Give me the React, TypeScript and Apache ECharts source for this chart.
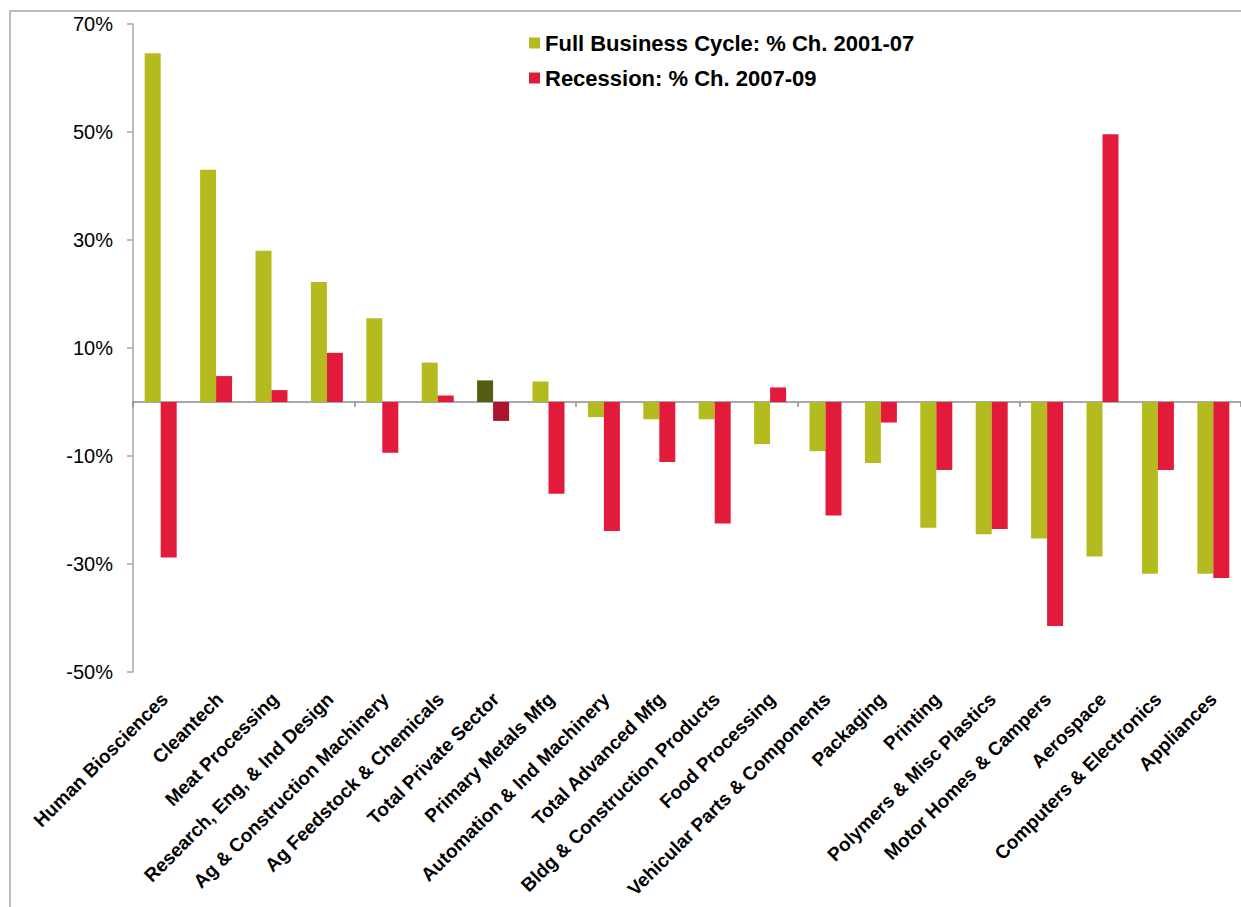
import React, { useEffect, useRef } from "react";
import * as echarts from "echarts";

const categories = [
  "Human Biosciences",
  "Cleantech",
  "Meat Processing",
  "Research, Eng, & Ind Design",
  "Ag & Construction Machinery",
  "Ag Feedstock & Chemicals",
  "Total Private Sector",
  "Primary Metals Mfg",
  "Automation & Ind Machinery",
  "Total Advanced Mfg",
  "Bldg & Construction Products",
  "Food Processing",
  "Vehicular Parts & Components",
  "Packaging",
  "Printing",
  "Polymers & Misc Plastics",
  "Motor Homes & Campers",
  "Aerospace",
  "Computers & Electronics",
  "Appliances",
];

const fullCycle = [
  64.6, 43.0, 28.0, 22.2, 15.5, 7.3, 4.0, 3.8, -2.8, -3.2, -3.2, -7.8, -9.1,
  -11.3, -23.3, -24.5, -25.3, -28.6, -31.8, -31.8,
];

const recession = [
  -28.8, 4.8, 2.2, 9.1, -9.4, 1.2, -3.5, -17.0, -23.9, -11.1, -22.5, 2.7,
  -21.0, -3.8, -12.6, -23.5, -41.5, 49.6, -12.6, -32.6,
];

const seriesNames = [
  "Full Business Cycle: % Ch. 2001-07",
  "Recession: % Ch. 2007-09",
];

const yTicks = { min: -50, max: 70, interval: 20 };

const highlightCategory = "Total Private Sector";

const GREEN = "#b3bb1f";
const RED = "#e31b3a";
const DARK_GREEN = "#575b12";
const DARK_RED = "#ad132b";

export default function App() {
  const ref = useRef<HTMLDivElement>(null);

  useEffect(() => {
    document.body.style.margin = "0";
    if (!ref.current) return;
    const chart = echarts.init(ref.current, null, { renderer: "svg" });

    const mk = (vals: number[], base: string, dark: string) =>
      vals.map((v, i) => ({
        value: v,
        itemStyle: {
          color: categories[i] === highlightCategory ? dark : base,
        },
      }));

    const font = "'Liberation Sans', Arial, sans-serif";

    chart.setOption({
      animation: false,
      backgroundColor: "#ffffff",
      graphic: [
        {
          type: "rect",
          shape: { x: 10, y: 11, width: 1400, height: 1000 },
          style: { fill: "none", stroke: "#a6a6a6", lineWidth: 1.5 },
          silent: true,
          z: -10,
        },
      ],
      legend: {
        orient: "vertical",
        left: 524,
        top: 27,
        itemWidth: 11,
        itemHeight: 11,
        itemGap: 13,
        icon: "rect",
        data: seriesNames,
        textStyle: {
          fontFamily: font,
          fontWeight: "bold",
          fontSize: 22,
          color: "#000",
        },
      },
      grid: [
        { left: 133, top: 24, width: 1120, height: 648 },
        { left: 137, top: 24, width: 1120, height: 648 },
      ],
      xAxis: [
        {
          type: "category",
          gridIndex: 0,
          data: categories,
          position: "top",
          axisLine: {
            show: true,
            onZero: true,
            lineStyle: { color: "#8c8c8c", width: 1.5 },
          },
          axisTick: {
            show: true,
            inside: true,
            length: 5,
            lineStyle: { color: "#8c8c8c", width: 1.5 },
          },
          axisLabel: { show: false },
        },
        {
          type: "category",
          gridIndex: 1,
          data: categories,
          position: "bottom",
          axisLine: { show: false, onZero: false },
          axisTick: { show: false },
          axisLabel: {
            interval: 0,
            rotate: 45,
            margin: 24,
            fontFamily: font,
            fontWeight: "bold",
            fontSize: 19,
            color: "#000",
          },
        },
      ],
      yAxis: [
        {
          type: "value",
          gridIndex: 0,
          ...yTicks,
          splitLine: { show: false },
          axisLine: {
            show: true,
            lineStyle: { color: "#a6a6a6", width: 1.5 },
          },
          axisTick: {
            show: true,
            length: 6,
            lineStyle: { color: "#a6a6a6", width: 1.5 },
          },
          axisLabel: {
            formatter: "{value}%",
            margin: 20,
            fontFamily: font,
            fontSize: 20,
            color: "#000",
          },
        },
        {
          type: "value",
          gridIndex: 1,
          ...yTicks,
          show: false,
        },
      ],
      series: [
        {
          name: seriesNames[0],
          type: "bar",
          xAxisIndex: 0,
          yAxisIndex: 0,
          barWidth: 16,
          barGap: "0%",
          itemStyle: { color: GREEN },
          data: mk(fullCycle, GREEN, DARK_GREEN),
        },
        {
          name: seriesNames[1],
          type: "bar",
          xAxisIndex: 0,
          yAxisIndex: 0,
          barWidth: 16,
          barGap: "0%",
          itemStyle: { color: RED },
          data: mk(recession, RED, DARK_RED),
        },
      ],
    });

    return () => chart.dispose();
  }, []);

  return <div ref={ref} style={{ width: 1241, height: 907 }} />;
}
